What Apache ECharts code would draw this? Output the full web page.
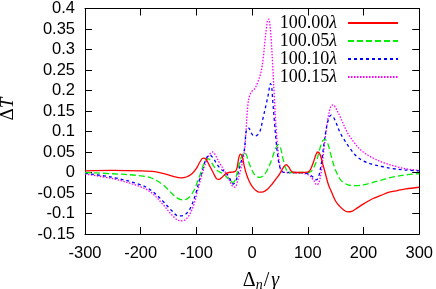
<!DOCTYPE html>
<html>
<head>
<meta charset="utf-8">
<script src="https://cdn.jsdelivr.net/npm/echarts@6/dist/echarts.min.js"></script>
<style>
html,body{margin:0;padding:0;background:#fff;}
#c{width:436px;height:289px;}
</style>
</head>
<body>
<div id="c"></div>
<script>
const seriesNames = ['100.00λ', '100.05λ', '100.10λ', '100.15λ'];
const xTicks = [-300, -200, -100, 0, 100, 200, 300];
const yTicks = [-0.15, -0.1, -0.05, 0, 0.05, 0.1, 0.15, 0.2, 0.25, 0.3, 0.35, 0.4];

const redX = [-300,-250,-200,-175,-155,-140,-128,-118,-108,-100,-94,-88,-83,-77,-70,-64,-60,-55,-48,-42,-35,-30,-27,-24,-21,-18,-14,-10,-5,0,6,12,20,28,36,44,50,56,61,66,70,75,85,100,105,110,115,118,122,127,131,137,142,150,157,165,172,180,187,201,216,231,246,261,276,300];
const redY = [0.004,0.005,0.004,0.002,-0.004,-0.010,-0.013,-0.011,-0.003,0.010,0.025,0.035,0.033,0.018,0.000,-0.015,-0.017,-0.013,-0.004,0.000,0.001,0.003,0.012,0.035,0.045,0.040,0.015,-0.005,-0.022,-0.034,-0.043,-0.048,-0.047,-0.040,-0.028,-0.014,-0.002,0.012,0.019,0.013,0.004,0.000,0.000,0.001,0.008,0.025,0.045,0.050,0.044,0.020,0.000,-0.030,-0.046,-0.070,-0.082,-0.092,-0.096,-0.094,-0.088,-0.076,-0.064,-0.056,-0.048,-0.044,-0.040,-0.036];

const greenX = [-300,-250,-200,-180,-160,-145,-135,-124,-115,-105,-98,-92,-87,-82,-78,-72,-65,-58,-52,-45,-38,-34,-30,-25,-20,-15,-11,-6,0,6,13,20,28,36,42,47,51,56,61,66,80,100,105,110,116,122,127,131,136,142,150,160,172,187,200,215,230,250,275,300];
const greenY = [0.000,-0.003,-0.008,-0.014,-0.030,-0.050,-0.062,-0.067,-0.063,-0.045,-0.022,0.000,0.020,0.032,0.033,0.022,0.008,0.001,-0.003,-0.012,-0.022,-0.024,-0.016,0.010,0.035,0.048,0.045,0.025,0.005,-0.008,-0.012,-0.008,0.008,0.035,0.058,0.068,0.060,0.030,0.008,0.000,0.000,0.000,0.002,0.010,0.030,0.060,0.078,0.081,0.070,0.040,0.005,-0.020,-0.030,-0.032,-0.030,-0.025,-0.019,-0.012,-0.006,-0.003];

const blueX = [-300,-250,-200,-180,-160,-145,-132,-122,-112,-102,-95,-88,-82,-76,-70,-62,-55,-47,-40,-34,-29,-24,-18,-14,-10,-6,-2,4,9,14,20,25,29,33,35,37,40,43,46,50,54,60,80,100,110,115,119,124,130,136,142,148,157,163,175,187,200,216,235,250,275,300];
const blueY = [-0.002,-0.012,-0.030,-0.045,-0.070,-0.092,-0.106,-0.104,-0.090,-0.055,-0.020,0.012,0.035,0.043,0.035,0.018,0.007,0.000,-0.015,-0.028,-0.020,0.005,0.035,0.055,0.105,0.108,0.097,0.089,0.091,0.100,0.135,0.165,0.190,0.217,0.210,0.175,0.125,0.077,0.040,0.012,0.002,0.000,0.000,-0.003,-0.012,-0.018,-0.012,0.020,0.080,0.125,0.140,0.130,0.100,0.085,0.060,0.040,0.028,0.020,0.014,0.010,0.006,0.004];

const magentaX = [-300,-250,-200,-180,-160,-145,-132,-125,-115,-105,-97,-90,-83,-76,-71,-65,-58,-50,-42,-36,-31,-26,-20,-14,-11,-8,-5,-1,5,10,16,20,23,26,28,30,32,34,37,40,43,46,50,54,60,80,100,110,116,120,125,130,136,141,145,151,160,170,181,195,216,240,260,276,300];
const magentaY = [-0.004,-0.015,-0.035,-0.050,-0.078,-0.102,-0.117,-0.118,-0.108,-0.080,-0.040,-0.005,0.025,0.045,0.050,0.040,0.022,0.005,-0.015,-0.032,-0.036,-0.020,0.010,0.050,0.100,0.160,0.185,0.197,0.205,0.220,0.245,0.280,0.320,0.355,0.372,0.374,0.360,0.330,0.260,0.180,0.110,0.060,0.015,0.002,0.000,-0.001,-0.005,-0.018,-0.030,-0.025,0.010,0.070,0.130,0.160,0.165,0.155,0.130,0.100,0.077,0.055,0.036,0.022,0.014,0.009,0.005];

const colors = ['#ff0000', '#00ee00', '#0000ff', '#ff00ff'];
const dashes = ['solid', [6, 3], [3, 3], [1.5, 1.5]];
const xs = [redX, greenX, blueX, magentaX];
const ys = [redY, greenY, blueY, magentaY];

const chart = echarts.init(document.getElementById('c'), null, {renderer: 'canvas'});

const tickFont = {fontFamily: 'Liberation Sans', fontSize: 16.5, color: '#000'};
const gridBox = {left: 85, right: 16, top: 6, bottom: 55};

const baseX = {
  type: 'value', min: -300, max: 300, interval: 100,
  axisLine: {show: true, onZero: false, lineStyle: {color: '#000', width: 1}},
  axisTick: {show: true, inside: true, length: 7, lineStyle: {color: '#000', width: 1}},
  splitLine: {show: false}
};
const baseY = {
  type: 'value', min: -0.15, max: 0.4, interval: 0.05,
  axisLine: {show: true, onZero: false, lineStyle: {color: '#000', width: 1}},
  axisTick: {show: true, inside: true, length: 7, lineStyle: {color: '#000', width: 1}},
  splitLine: {show: false}
};

const option = {
  animation: false,
  backgroundColor: '#fff',
  grid: gridBox,
  xAxis: [
    Object.assign({}, baseX, {position: 'bottom', axisLabel: Object.assign({margin: 11}, tickFont)}),
    Object.assign({}, baseX, {position: 'top', axisLabel: {show: false}})
  ],
  yAxis: [
    Object.assign({}, baseY, {position: 'left', axisLabel: Object.assign({margin: 10}, tickFont)}),
    Object.assign({}, baseY, {position: 'right', axisLabel: {show: false}})
  ],
  legend: {
    orient: 'vertical',
    right: 37,
    top: 14,
    padding: 0,
    align: 'right',
    itemWidth: 50,
    itemHeight: 18,
    itemGap: 0,
    data: seriesNames,
    itemStyle: {opacity: 0, borderWidth: 0},
    formatter: n => n.slice(0, -1) + '{l|λ}',
    textStyle: {
      fontFamily: 'Liberation Serif', fontSize: 18, color: '#000', padding: [0, 6, 0, 0],
      rich: {l: {fontFamily: 'Liberation Serif', fontStyle: 'italic', fontSize: 18, color: '#000'}}
    }
  },
  graphic: [
    {
      type: 'text', x: 261, y: 281,
      style: {
        text: '{d|Δ}{n|n}{s|/}{g|γ}', align: 'center', verticalAlign: 'middle',
        rich: {
          d: {fontFamily: 'Liberation Serif', fontSize: 20, fill: '#000'},
          n: {fontFamily: 'Liberation Serif', fontStyle: 'italic', fontSize: 14, fill: '#000', verticalAlign: 'bottom', padding: [9, 1, 0, 0]},
          s: {fontFamily: 'Liberation Serif', fontSize: 20, fill: '#000', padding: [0, 2, 0, 0]},
          g: {fontFamily: 'Liberation Serif', fontStyle: 'italic', fontSize: 20, fill: '#000'}
        }
      }
    },
    {
      type: 'text', x: 8, y: 109, rotation: Math.PI / 2,
      style: {
        text: '{d|Δ}{t|T}', align: 'center', verticalAlign: 'middle',
        rich: {
          d: {fontFamily: 'Liberation Serif', fontSize: 19, fill: '#000'},
          t: {fontFamily: 'Liberation Serif', fontStyle: 'italic', fontSize: 19, fill: '#000'}
        }
      }
    }
  ],
  series: seriesNames.map((name, i) => ({
    name: name,
    type: 'line',
    xAxisIndex: 0,
    yAxisIndex: 0,
    data: xs[i].map((x, k) => [x, ys[i][k]]),
    symbol: 'none',
    showSymbol: false,
    smooth: 0.35,
    z: 10 - i,
    lineStyle: {color: colors[i], width: 1.3, type: dashes[i]},
    itemStyle: {color: colors[i]}
  }))
};
chart.setOption(option);
</script>
</body>
</html>
